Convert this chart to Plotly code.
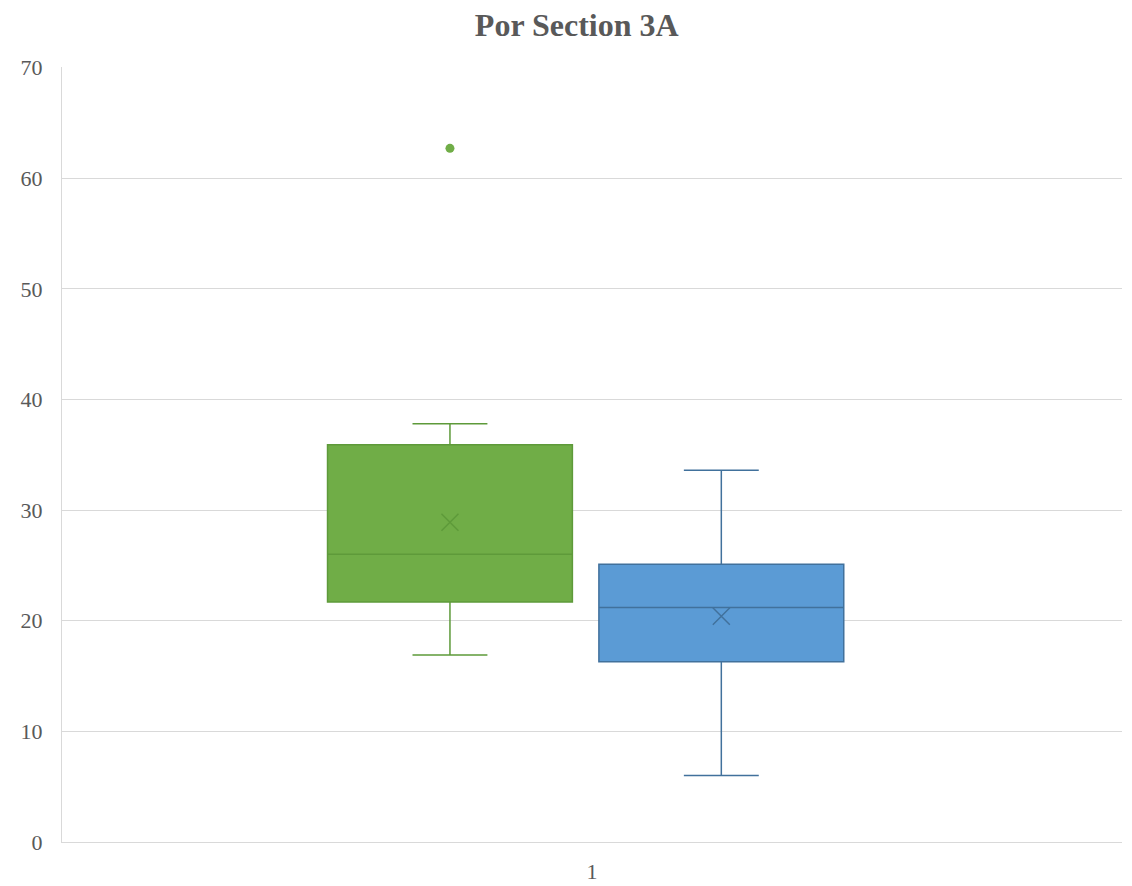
import plotly.graph_objects as go

# Data
series_names = ["Series A", "Series B"]
q1_vals = [21.7, 16.3]
median_vals = [26.0, 21.2]
q3_vals = [35.9, 25.1]
lower_whisker = [16.9, 6.0]
upper_whisker = [37.8, 33.6]
mean_vals = [28.9, 20.4]
outliers = [[62.7], []]
category_labels = ["1"]

fills = ["#70AD47", "#5B9BD5"]
edges = ["#5E9A3A", "#41719C"]
offsets = [-0.134, 0.122]
box_width = 0.231

fig = go.Figure()
for i, name in enumerate(series_names):
    xpos = 1 + offsets[i]
    fig.add_trace(go.Box(
        name=name,
        x=[xpos],
        q1=[q1_vals[i]], median=[median_vals[i]], q3=[q3_vals[i]],
        lowerfence=[lower_whisker[i]], upperfence=[upper_whisker[i]],
        width=box_width, whiskerwidth=0.306,
        fillcolor=fills[i],
        line=dict(color=edges[i], width=1.5),
        boxpoints=False, showlegend=False, hoverinfo="skip",
    ))
    fig.add_trace(go.Scatter(
        x=[xpos], y=[mean_vals[i]], mode="markers",
        marker=dict(symbol="x-thin", size=17, line=dict(color=edges[i], width=1.5)),
        showlegend=False, hoverinfo="skip",
    ))
    if outliers[i]:
        fig.add_trace(go.Scatter(
            x=[xpos] * len(outliers[i]), y=outliers[i], mode="markers",
            marker=dict(symbol="circle", size=9, color=fills[i]),
            showlegend=False, hoverinfo="skip",
        ))

fig.update_layout(
    width=1124, height=878,
    margin=dict(l=54, r=10, t=59, b=44),
    paper_bgcolor="white", plot_bgcolor="white",
    title=dict(text="<b>Por Section 3A</b>", x=0.506, xanchor="center",
               y=0.994, yanchor="top", yref="container", pad=dict(t=0, b=0),
               font=dict(family="Liberation Serif", size=32, color="#595959")),
    font=dict(family="Liberation Serif", size=22, color="#595959"),
)
fig.update_xaxes(range=[0.5, 1.5], tickvals=[1], ticktext=category_labels, automargin=False,
                 showgrid=False, zeroline=False, showline=True, linecolor="#D9D9D9", linewidth=1.3,
                 ticks="", ticklen=0, ticklabelstandoff=9)
fig.update_yaxes(range=[0, 70.05], tickvals=[0, 10, 20, 30, 40, 50, 60, 70], automargin=False,
                 showgrid=True, gridcolor="#D9D9D9", gridwidth=1.3,
                 zeroline=False, showline=True, linecolor="#D9D9D9", linewidth=1.3, ticks="",
                 ticklabelstandoff=14)
fig.write_html("out.html")
